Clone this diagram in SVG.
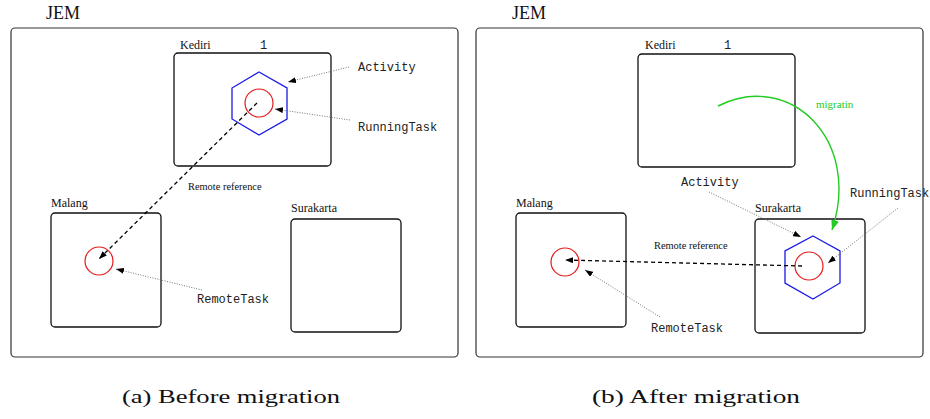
<svg xmlns="http://www.w3.org/2000/svg" width="930" height="419" viewBox="0 0 930 419">
  <style>
    .frame { fill: none; stroke: #333; stroke-width: 1.2; }
    .host { fill: none; stroke: #111; stroke-width: 1.3; }
    .lbl { font-family: "Liberation Serif", "Times New Roman", serif; fill: #111; }
    .mono { font-family: "Liberation Mono", "Courier New", monospace; font-size: 12px; fill: #222; }
    .task { fill: none; stroke: #e41a1a; stroke-width: 1.2; }
    .act { fill: none; stroke: #1a1ae6; stroke-width: 1.3; }
    .ref { fill: none; stroke: #000; stroke-width: 1.3; stroke-dasharray: 4 3; }
    .pointer { fill: none; stroke: #666; stroke-width: 0.9; stroke-dasharray: 1 1.5; }
    .mig { fill: none; stroke: #22cc22; stroke-width: 1.4; }
    .cap { font-family: "Liberation Serif", "Times New Roman", serif; font-size: 19px; fill: #111; }
  </style>
  <defs>
    <marker id="tip" viewBox="0 0 8 6" refX="8" refY="3" markerWidth="8" markerHeight="6" markerUnits="userSpaceOnUse" orient="auto">
      <path d="M0,0 L8,3 L0,6 Z" fill="#000"/>
    </marker>
    <marker id="tipGreen" viewBox="0 0 10 8" refX="10" refY="4" markerWidth="10" markerHeight="8" markerUnits="userSpaceOnUse" orient="auto">
      <path d="M0,0 L10,4 L0,8 Z" fill="#22cc22"/>
    </marker>
  </defs>

  <!-- (a) Before migration -->
  <g id="jem-a">
    <rect class="frame" x="11" y="28" width="447" height="329" rx="4"/>
    <text class="lbl" x="46" y="19" font-size="18">JEM</text>
  </g>
  <g id="kediri-a">
    <rect class="host" x="174" y="53" width="157" height="113" rx="4"/>
    <text class="lbl" x="180" y="49" font-size="12">Kediri</text>
    <text class="mono" x="260" y="49" font-size="13">1</text>
  </g>
  <g id="activity-a">
    <polygon class="act" points="259,72 287,88 287,119 259,135 232,119 232,88"/>
    <circle class="task" cx="259" cy="103" r="14"/>
  </g>
  <g id="malang-a">
    <rect class="host" x="51" y="213" width="110" height="114" rx="4"/>
    <text class="lbl" x="51" y="207" font-size="12">Malang</text>
    <circle class="task" cx="99" cy="261" r="14"/>
  </g>
  <g id="surakarta-a">
    <rect class="host" x="291" y="219" width="110" height="113" rx="4"/>
    <text class="lbl" x="291" y="212" font-size="12">Surakarta</text>
  </g>
  <g id="labels-a">
    <text class="mono" x="358" y="71">Activity</text>
    <text class="mono" x="358" y="131">RunningTask</text>
    <text class="mono" x="197" y="303">RemoteTask</text>
    <text class="lbl" x="188" y="190" font-size="10.4">Remote reference</text>
  </g>
  <g id="connectors-a">
    <line class="ref" x1="257" y1="103" x2="99" y2="259" marker-end="url(#tip)"/>
    <line class="pointer" x1="349" y1="67" x2="288" y2="82" marker-end="url(#tip)"/>
    <line class="pointer" x1="350" y1="120" x2="275" y2="109" marker-end="url(#tip)"/>
    <line class="pointer" x1="202" y1="290" x2="116" y2="269" marker-end="url(#tip)"/>
  </g>

  <!-- (b) After migration -->
  <g id="jem-b">
    <rect class="frame" x="476" y="28" width="447" height="329" rx="4"/>
    <text class="lbl" x="512" y="19" font-size="18">JEM</text>
  </g>
  <g id="kediri-b">
    <rect class="host" x="638" y="54" width="157" height="113" rx="4"/>
    <text class="lbl" x="645" y="49" font-size="12">Kediri</text>
    <text class="mono" x="724" y="49" font-size="13">1</text>
  </g>
  <g id="malang-b">
    <rect class="host" x="516" y="213" width="110" height="114" rx="4"/>
    <text class="lbl" x="516" y="207" font-size="12">Malang</text>
    <circle class="task" cx="565" cy="262" r="14"/>
  </g>
  <g id="surakarta-b">
    <rect class="host" x="755" y="219" width="110" height="114" rx="4"/>
    <text class="lbl" x="755" y="212" font-size="12">Surakarta</text>
  </g>
  <g id="activity-b">
    <polygon class="act" points="813,236 840,251 840,283 813,299 785,283 785,251"/>
    <circle class="task" cx="809" cy="266" r="14"/>
  </g>
  <g id="labels-b">
    <text class="mono" x="681" y="186">Activity</text>
    <text class="mono" x="850" y="197">RunningTask</text>
    <text class="mono" x="651" y="332">RemoteTask</text>
    <text class="lbl" x="654" y="249" font-size="10.4">Remote reference</text>
    <text class="lbl" x="816" y="108" font-size="11" fill="#22cc22" style="fill:#22cc22">migratin</text>
  </g>
  <g id="connectors-b">
    <path class="mig" d="M718,106 C790,70 862,140 832,230" marker-end="url(#tipGreen)"/>
    <line class="ref" x1="802" y1="266" x2="565" y2="260" marker-end="url(#tip)"/>
    <line class="pointer" x1="709" y1="192" x2="801" y2="237" marker-end="url(#tip)"/>
    <line class="pointer" x1="898" y1="208" x2="828" y2="263" marker-end="url(#tip)"/>
    <line class="pointer" x1="660" y1="317" x2="585" y2="270" marker-end="url(#tip)"/>
  </g>

  <!-- captions -->
  <text class="cap" x="122" y="403" textLength="218" lengthAdjust="spacingAndGlyphs">(a) Before migration</text>
  <text class="cap" x="592" y="403" textLength="208" lengthAdjust="spacingAndGlyphs">(b) After migration</text>
</svg>
